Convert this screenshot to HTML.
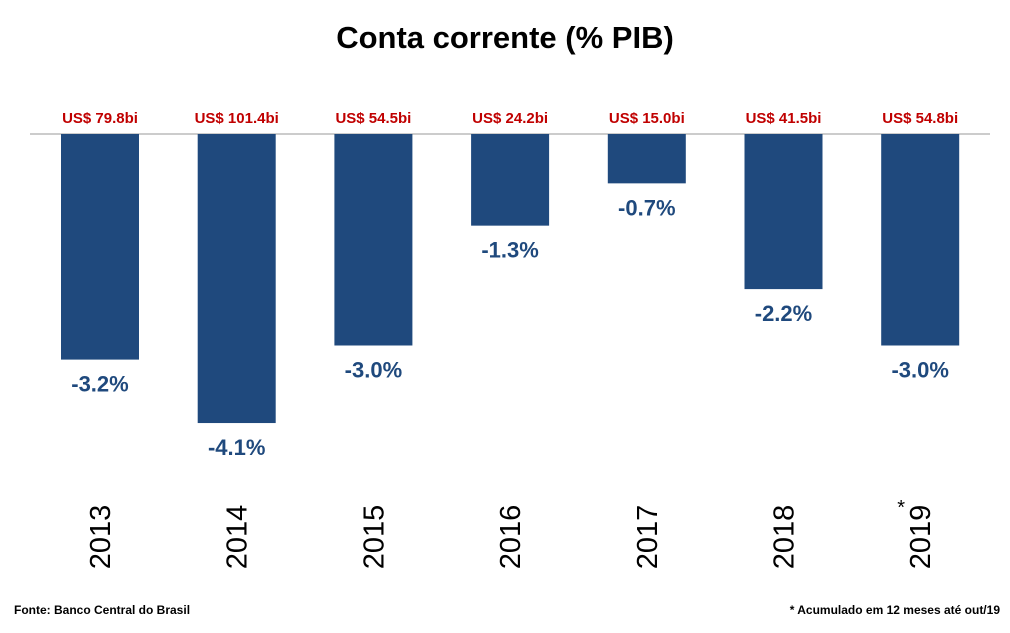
<!DOCTYPE html>
<html><head><meta charset="utf-8"><style>
body{margin:0;background:#fff;font-family:"Liberation Sans",sans-serif}
</style></head><body>
<svg width="1010" height="628" xmlns="http://www.w3.org/2000/svg" font-family="Liberation Sans, sans-serif">
<text x="505" y="48" text-anchor="middle" font-size="31" font-weight="bold" fill="#000">Conta corrente (% PIB)</text>
<line x1="30" y1="134" x2="990" y2="134" stroke="#999" stroke-width="1"/>
<g id="bars"></g>
<text x="14" y="614" font-size="12" font-weight="bold" fill="#000">Fonte: Banco Central do Brasil</text>
<text x="1000" y="614" text-anchor="end" font-size="12" font-weight="bold" fill="#000">* Acumulado em 12 meses até out/19</text>
</svg>
<script>
const categories=["2013","2014","2015","2016","2017","2018","2019"];
const values=[-3.2,-4.1,-3.0,-1.3,-0.7,-2.2,-3.0];
const usdLabels=["US$ 79.8bi","US$ 101.4bi","US$ 54.5bi","US$ 24.2bi","US$ 15.0bi","US$ 41.5bi","US$ 54.8bi"];
const NS="http://www.w3.org/2000/svg";
const g=document.getElementById('bars');
const x0=100,step=136.7,bw=78,base=134,k=70.5;
const xs=i=>x0+i*step;
const ys=v=>base-v*k;
function t(x,y,s,attrs,name){const e=document.createElementNS(NS,'text');e.setAttribute('x',x);e.setAttribute('y',y);for(const a in attrs)e.setAttribute(a,attrs[a]);e.textContent=s;


g.appendChild(e);return e;}
categories.forEach((c,i)=>{
const cx=xs(i),y=ys(values[i]);
const r=document.createElementNS(NS,'rect');
r.setAttribute('x',cx-bw/2);r.setAttribute('y',base);r.setAttribute('width',bw);r.setAttribute('height',y-base);r.setAttribute('fill','#1f497d');


g.appendChild(r);
t(cx,y+32,values[i].toFixed(1)+'%',{'text-anchor':'middle','font-size':'22','font-weight':'bold',fill:'#1f497d'},'value-label-'+c);
t(cx,123,usdLabels[i],{'text-anchor':'middle','font-size':'15','font-weight':'bold',fill:'#c00000'},'usd-label-'+c);
t(0,0,c,{'text-anchor':'middle','font-size':'29',fill:'#000',transform:'translate('+(cx+10)+',537) rotate(-90)'},'year-label-'+c);
});
t(xs(6)-19,514,'*',{'text-anchor':'middle','font-size':'20',fill:'#000'},'asterisk-2019');
</script>
</body></html>
